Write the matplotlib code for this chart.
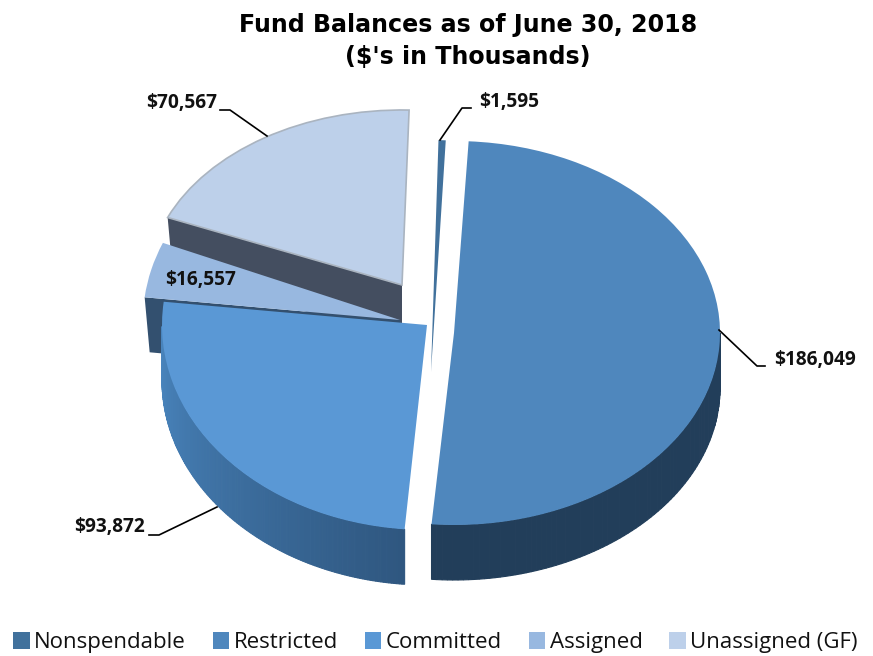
import matplotlib
matplotlib.use("Agg")
import matplotlib.pyplot as plt
from matplotlib.transforms import Affine2D
import numpy as np

W, H = 873, 656

categories = ["Nonspendable", "Restricted", "Committed", "Assigned", "Unassigned (GF)"]
values = [1595, 186049, 93872, 16557, 70567]
value_labels = ["$1,595", "$186,049", "$93,872", "$16,557", "$70,567"]
colors = ["#41719c", "#4f87bd", "#5a98d5", "#98b8e0", "#bdd0ea"]

# slice geometry in pixels: tip x, tip y, radius x, radius y
tips = [(431, 372), (454, 333), (427, 325), (400, 320), (402, 285)]
radii = [(268, 232), (266, 192), (265, 205), (257, 200), (254, 175)]
depth = 55
zorders = [9, 8, 6, 4, 2]


def py(y):
    return H - y


def arc(i, ang):
    cx, cy = tips[i]
    rx, ry = radii[i]
    return cx + rx * np.cos(ang), py(cy) + ry * np.sin(ang)


def blend(c1, c2, t):
    a = np.array(matplotlib.colors.to_rgb(c1))
    b = np.array(matplotlib.colors.to_rgb(c2))
    return a + (b - a) * t


def outer_wall(ax, i, wedge, c_left, c_right):
    # side of the slice, below the lower half of the rim
    t = np.radians(np.linspace(wedge.theta1, wedge.theta2, 160))
    t = t[np.sin(t) <= 0]
    x, y = arc(i, t)
    order = np.argsort(x)
    x, y = x[order], y[order]
    for k in range(len(x) - 1):
        ax.fill([x[k], x[k + 1], x[k + 1], x[k]],
                [y[k], y[k + 1], y[k + 1] - depth, y[k] - depth],
                color=blend(c_left, c_right, k / (len(x) - 2)), lw=0.8,
                zorder=wedge.get_zorder() - 0.5)


def cut_wall(ax, i, angle, color):
    # cut face under the lower straight edge of the slice
    cx, cy = tips[i]
    ex, ey = arc(i, np.radians(angle))
    ax.fill([ex, cx, cx, ex + 5], [ey, py(cy), py(cy) - depth, ey - depth],
            color=color, lw=0, zorder=zorders[i] - 0.5)


fig = plt.figure(figsize=(W / 100, H / 100), dpi=100)
ax = fig.add_axes([0, 0, 1, 1])

start = 88.4
wedges, _ = ax.pie(values, colors=colors, startangle=start, counterclock=False,
                   radius=1, wedgeprops={"linewidth": 0})
ax.set_aspect("auto")
ax.set_xlim(0, W)
ax.set_ylim(0, H)
ax.axis("off")

for i, w in enumerate(wedges):
    cx, cy = tips[i]
    rx, ry = radii[i]
    w.set_transform(Affine2D().scale(rx, ry).translate(cx, py(cy)) + ax.transData)
    w.set_zorder(zorders[i])
wedges[4].set_edgecolor("#aab4c0")
wedges[4].set_linewidth(1.2)

# theta1/theta2 come from the pie itself
outer_wall(ax, 1, wedges[1], "#223e5a", "#223e5a")
outer_wall(ax, 2, wedges[2], "#4a86bf", "#2f5780")
cut_wall(ax, 3, wedges[3].theta2, "#33506f")
cut_wall(ax, 4, wedges[4].theta2, "#444e60")

lab_font = dict(fontfamily="Open Sans", fontweight="bold", fontsize=13.8, color="#111111", zorder=20)
leaders = [
    ([471, 462, 440], [108, 108, 140]),
    ([765, 757, 719], [366, 366, 330]),
    ([149, 159, 217], [535, 535, 507]),
    ([220, 230, 267], [110, 110, 136]),
]
for xs, ys in leaders:
    ax.plot(xs, [py(v) for v in ys], color="black", lw=1.2, zorder=19)
ax.text(479, py(102), value_labels[0], ha="left", va="center", **lab_font)
ax.text(774, py(360), value_labels[1], ha="left", va="center", **lab_font)
ax.text(145, py(527), value_labels[2], ha="right", va="center", **lab_font)
ax.text(165, py(280), value_labels[3], ha="left", va="center", **lab_font)
ax.text(217, py(103), value_labels[4], ha="right", va="center", **lab_font)

ax.text(468, py(41), "Fund Balances as of June 30, 2018\n($'s in Thousands)", ha="center", va="center",
        fontfamily="DejaVu Sans", fontweight="bold", fontsize=17.1, linespacing=1.45, color="black")

leg = ax.legend(wedges, categories, loc="lower left", bbox_to_anchor=(-0.009, -0.028), ncol=5, frameon=False,
                prop={"family": "Open Sans", "size": 16}, handlelength=0.75, handleheight=0.75,
                handletextpad=0.2, columnspacing=1.2, borderpad=0.45, labelcolor="#111111")
for h in leg.legend_handles:
    h.set_linewidth(0)

fig.savefig("out.png", dpi=100)
